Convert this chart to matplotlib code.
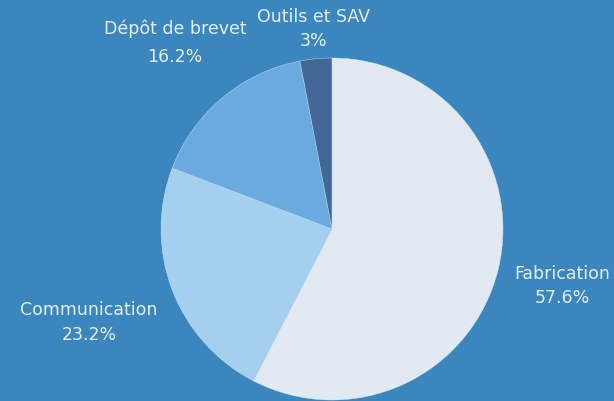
import matplotlib.pyplot as plt
import numpy as np

# Budget breakdown
categories = ['Fabrication', 'Communication', 'Dépôt de brevet', 'Outils et SAV']
values = [57.6, 23.2, 16.2, 3.0]
pct_labels = ['57.6%', '23.2%', '16.2%', '3%']
colors = ['#e1eaf3', '#a5cfee', '#6aaade', '#436797']
label_dist = [1.385, 1.52, 1.43, 1.18]

BG = '#3b87bd'
TXT = '#e3edf6'

fig = plt.figure(figsize=(6.14, 4.02), dpi=100, facecolor=BG)
ax = fig.add_axes([0, 0, 1, 1])
ax.set_facecolor(BG)

wedges, _ = ax.pie(values, colors=colors, startangle=90, counterclock=False,
                   radius=1, center=(0, 0),
                   wedgeprops=dict(linewidth=0.3, edgecolor='#d5e3f0'))

# place labels around the pie
for i, (w, name, pct, d) in enumerate(zip(wedges, categories, pct_labels, label_dist)):
    ang = np.deg2rad((w.theta1 + w.theta2) / 2)
    x, y = d * np.cos(ang), d * np.sin(ang)
    ls = 1.75 if i == 2 else 1.45
    ax.text(x, y, name + '\n' + pct, ha='center', va='center', color=TXT,
            fontsize=12.5, family='DejaVu Sans', linespacing=ls)

# 1 unit = 171 px, centre at (332, 230)
r = 171
ax.set_xlim(-332 / r, (614 - 332) / r)
ax.set_ylim(-(402 - 230) / r, 230 / r)
ax.set_aspect('auto')
ax.axis('off')

fig.savefig('out.png', dpi=100, facecolor=BG)
